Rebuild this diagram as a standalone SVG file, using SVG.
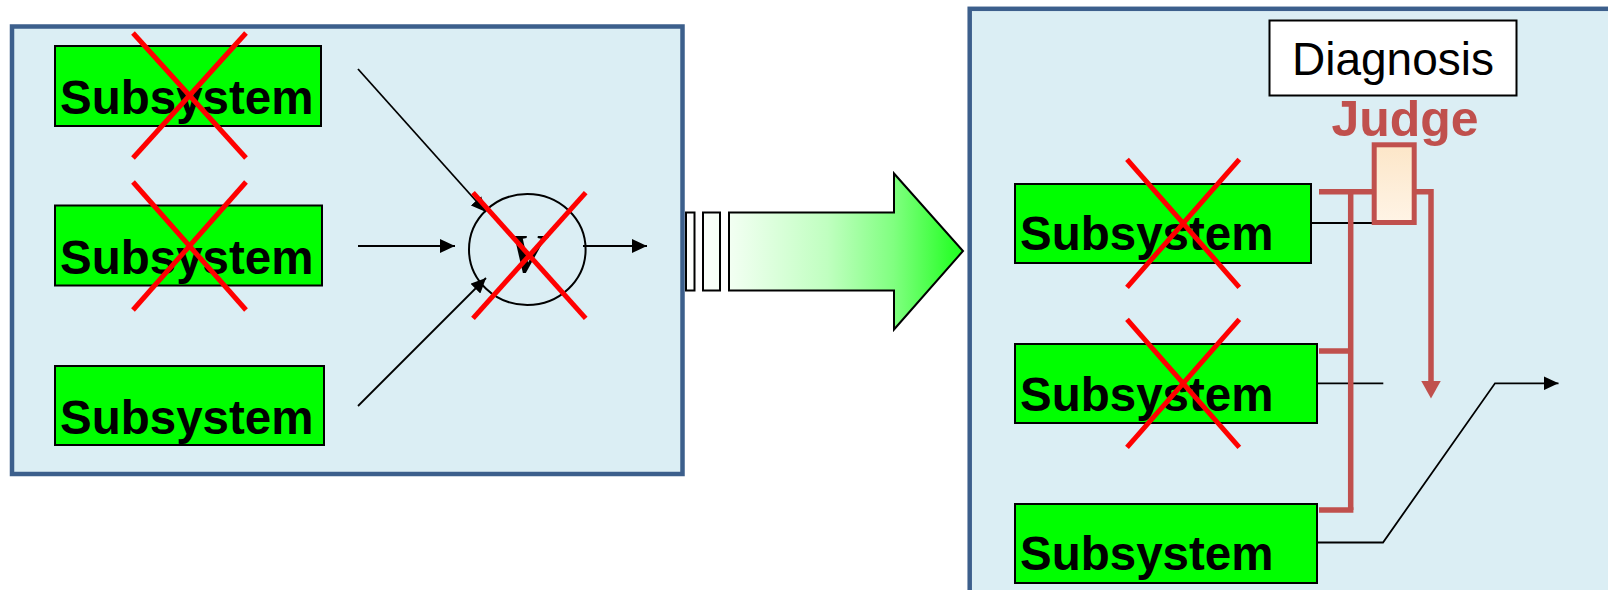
<svg xmlns="http://www.w3.org/2000/svg" width="1608" height="590" viewBox="0 0 1608 590">
<style>
.panel{fill:#DBEEF4;stroke:#3C5F8C;stroke-width:4.5}
.box{fill:#00FF00;stroke:#000;stroke-width:2}
.lbl{font-family:"Liberation Sans",Arial,sans-serif;font-weight:bold;font-size:47.5px;fill:#000}
.cross{stroke:#FF0000;stroke-width:5;fill:none}
.wire{stroke:#000;stroke-width:1.8;fill:none}
.bus{stroke:#C0504D;stroke-width:5.5;fill:none}
</style>
<defs>
<marker id="ah" markerUnits="userSpaceOnUse" markerWidth="15" markerHeight="14" refX="15" refY="7" orient="auto">
<path d="M0,0 L15,7 L0,14 z" fill="#000"/>
</marker>
<marker id="ahr" markerUnits="userSpaceOnUse" markerWidth="18" markerHeight="20" refX="2" refY="10" orient="auto">
<path d="M0,0 L18,10 L0,20 z" fill="#C0504D"/>
</marker>
<linearGradient id="grn" gradientUnits="userSpaceOnUse" x1="686" y1="0" x2="963" y2="0">
<stop offset="0" stop-color="#FFFFFF"/>
<stop offset="0.155" stop-color="#F3FFF3"/>
<stop offset="0.51" stop-color="#C0FFC0"/>
<stop offset="0.75" stop-color="#80FF80"/>
<stop offset="0.95" stop-color="#30FF30"/>
<stop offset="1" stop-color="#22FF22"/>
</linearGradient>
<linearGradient id="peach" x1="0" y1="0" x2="0" y2="1">
<stop offset="0" stop-color="#FCE6C8"/>
<stop offset="1" stop-color="#FFF4E6"/>
</linearGradient>
</defs>

<g id="left-panel">
<rect class="panel" x="12" y="26.5" width="670.5" height="447.5"/>
</g>
<g id="right-panel">
<rect class="panel" x="969.7" y="8.8" width="700" height="700"/>
</g>

<g id="connectors">
<line class="wire" x1="358" y1="69" x2="486" y2="212" marker-end="url(#ah)"/>
<line class="wire" x1="358" y1="246" x2="455" y2="246" marker-end="url(#ah)"/>
<line class="wire" x1="358" y1="406" x2="486" y2="278" marker-end="url(#ah)"/>
<line class="wire" x1="583" y1="246" x2="647" y2="246" marker-end="url(#ah)"/>
<line class="wire" x1="1311" y1="223" x2="1373" y2="223"/>
<line class="wire" x1="1317" y1="383.3" x2="1383.3" y2="383.3"/>
<polyline class="wire" points="1317,542.5 1383,542.5 1495,383.3 1558.5,383.3" marker-end="url(#ah)"/>
<polyline class="bus" points="1319,191.7 1374,191.7"/>
<polyline class="bus" points="1350.7,191.7 1350.7,510"/>
<line class="bus" x1="1319" y1="351" x2="1350.7" y2="351"/>
<polyline class="bus" points="1319,510 1353.4,510"/>
<polyline class="bus" points="1414,191.7 1431,191.7 1431,382.5" marker-end="url(#ahr)"/>
</g>

<g id="or-gate">
<ellipse cx="527.3" cy="249.5" rx="58.3" ry="55.5" fill="none" stroke="#000" stroke-width="2"/>
<text x="527" y="272" text-anchor="middle" font-family="'Liberation Serif','Times New Roman',serif" font-weight="bold" font-style="italic" font-size="54" fill="#000">V</text>
<line class="cross" x1="473" y1="192.7" x2="585.7" y2="318.3"/>
<line class="cross" x1="585.7" y1="192.7" x2="473" y2="318.3"/>
</g>

<g id="transition-arrow">
<rect x="686" y="212.5" width="8.5" height="78" fill="url(#grn)" stroke="#000" stroke-width="2"/>
<rect x="703" y="212.5" width="17" height="78" fill="url(#grn)" stroke="#000" stroke-width="2"/>
<polygon points="729,212.5 894,212.5 894,173.5 963,251 894,329.5 894,290.5 729,290.5" fill="url(#grn)" stroke="#000" stroke-width="2"/>
</g>

<g id="left-sub1">
<rect class="box" x="55" y="46" width="266" height="80"/>
<text class="lbl" x="60" y="114">Subsystem</text>
<line class="cross" x1="133" y1="33" x2="246" y2="158"/>
<line class="cross" x1="246" y1="33" x2="133" y2="158"/>
</g>
<g id="left-sub2">
<rect class="box" x="55" y="205.5" width="267" height="80"/>
<text class="lbl" x="60" y="274">Subsystem</text>
<line class="cross" x1="133" y1="182" x2="246" y2="310"/>
<line class="cross" x1="246" y1="182" x2="133" y2="310"/>
</g>
<g id="left-sub3">
<rect class="box" x="55" y="366" width="269" height="79"/>
<text class="lbl" x="60" y="434">Subsystem</text>
</g>

<g id="right-sub1">
<rect class="box" x="1015" y="184" width="296" height="79"/>
<text class="lbl" x="1020" y="250">Subsystem</text>
<line class="cross" x1="1127" y1="159.3" x2="1239.3" y2="287.3"/>
<line class="cross" x1="1239.3" y1="159.3" x2="1127" y2="287.3"/>
</g>
<g id="right-sub2">
<rect class="box" x="1015" y="344" width="302" height="79"/>
<text class="lbl" x="1020" y="410.5">Subsystem</text>
<line class="cross" x1="1127" y1="319.3" x2="1239.3" y2="447.3"/>
<line class="cross" x1="1239.3" y1="319.3" x2="1127" y2="447.3"/>
</g>
<g id="right-sub3">
<rect class="box" x="1015" y="504" width="302" height="79"/>
<text class="lbl" x="1020" y="569.5">Subsystem</text>
</g>

<g id="diagnosis">
<rect x="1269.5" y="20.5" width="247" height="75" fill="#FFFFFF" stroke="#000" stroke-width="2"/>
<text x="1393" y="75" text-anchor="middle" font-family="'Liberation Sans',Arial,sans-serif" font-size="46" fill="#000">Diagnosis</text>
</g>
<g id="judge">
<text x="1405" y="136" text-anchor="middle" font-family="'Liberation Sans',Arial,sans-serif" font-weight="bold" font-size="50" fill="#C0504D">Judge</text>
<rect x="1374.2" y="144.8" width="40" height="77.7" fill="url(#peach)" stroke="#C0504D" stroke-width="5"/>
</g>
</svg>
